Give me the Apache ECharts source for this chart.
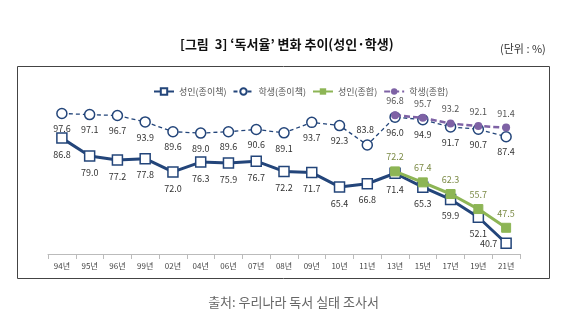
<!DOCTYPE html>
<html><head><meta charset="utf-8">
<script src="https://cdn.jsdelivr.net/npm/echarts@6/dist/echarts.min.js"></script>
<style>html,body{margin:0;padding:0;background:#fff}#c{width:587px;height:324px}</style>
</head><body><div id="c"></div>
<script>
const categories = ['94년','95년','96년','99년','02년','04년','06년','07년','08년','09년','10년','11년','13년','15년','17년','19년','21년'];
const adultPaper = [86.8,79.0,77.2,77.8,72.0,76.3,75.9,76.7,72.2,71.7,65.4,66.8,71.4,65.3,59.9,52.1,40.7];
const studentPaper = [97.6,97.1,96.7,93.9,89.6,89.0,89.6,90.6,89.1,93.7,92.3,83.8,96.0,94.9,91.7,90.7,87.4];
const adultTotal = [null,null,null,null,null,null,null,null,null,null,null,null,72.2,67.4,62.3,55.7,47.5];
const studentTotal = [null,null,null,null,null,null,null,null,null,null,null,null,96.8,95.7,93.2,92.1,91.4];

const NAVY = '#23457a', GREEN = '#8db555', PURPLE = '#7e62a5';
const chart = echarts.init(document.getElementById('c'));
const font = '"Noto Sans CJK KR","Noto Sans",sans-serif';

function lbl(pos, color, dist) {
  return {show:true, position:pos, distance:dist||4, fontSize:9, color:color, fontFamily:font,
    formatter: p => p.value == null ? '' : Number(p.value).toFixed(1)};
}

const ap = adultPaper.map((v,i)=> i===16 ? {value:v, label:{position:'left', distance:3}} : v);
const sp = studentPaper.map((v,i)=> i===11 ? {value:v, label:{position:'top', offset:[-2,0]}} : v);

chart.setOption({
  animation:false,
  textStyle:{fontFamily:font},
  graphic:[
    {type:'rect', shape:{x:17.5,y:66.5,width:532,height:212}, style:{fill:'none',stroke:'#444',lineWidth:1}},
    {type:'text', left:180, top:38, style:{text:'[그림  3] ‘독서율’ 변화 추이(성인·학생)', font:'bold 13px '+font, fill:'#111'}},
    {type:'text', left:500, top:43, style:{text:'(단위 : %)', font:'11px '+font, fill:'#333'}},
    {type:'text', left:'center', top:296, style:{text:'출처: 우리나라 독서 실태 조사서', font:'13px '+font, fill:'#666'}}
  ],
  legend:{
    top:82, left:148, itemWidth:20, itemHeight:8, itemGap:6,
    textStyle:{fontSize:9, color:'#555', fontFamily:font},
    data:['성인(종이책)','학생(종이책)','성인(종합)','학생(종합)']
  },
  grid:{left:48, right:67, top:108, bottom:70},
  xAxis:{
    type:'category', data:categories, boundaryGap:true,
    axisLine:{lineStyle:{color:'#bbb'}}, axisTick:{show:true, lineStyle:{color:'#bbb'}},
    axisLabel:{fontSize:8, color:'#444', margin:8, fontFamily:font}
  },
  yAxis:{type:'value', min:36, max:100, show:false, splitLine:{show:false}},
  series:[
    {name:'성인(종이책)', type:'line', data:ap, symbol:'rect', symbolSize:10,
     lineStyle:{color:NAVY, width:3}, itemStyle:{color:'#fff', borderColor:NAVY, borderWidth:1.5},
     label:lbl('bottom','#333',6), z:3},
    {name:'학생(종이책)', type:'line', data:sp, symbol:'circle', symbolSize:10,
     lineStyle:{color:NAVY, width:1.3, type:[4,3]}, itemStyle:{color:'#fff', borderColor:NAVY, borderWidth:1.5},
     label:lbl('bottom','#333',5), z:3},
    {name:'성인(종합)', type:'line', data:adultTotal, symbol:'rect', symbolSize:9,
     lineStyle:{color:GREEN, width:3}, itemStyle:{color:GREEN, borderColor:GREEN},
     label:lbl('top','#7b8a45',5), z:4},
    {name:'학생(종합)', type:'line', data:studentTotal, symbol:'circle', symbolSize:8,
     lineStyle:{color:PURPLE, width:2.5, type:[6,3]}, itemStyle:{color:PURPLE},
     label:lbl('top','#555',6), z:4}
  ]
});
</script></body></html>
